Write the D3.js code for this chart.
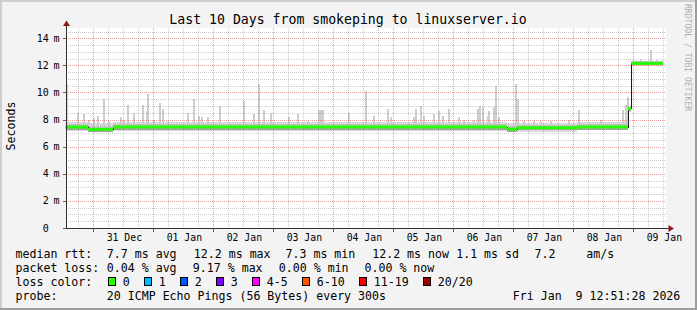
<!DOCTYPE html>
<html>
<head>
<meta charset="utf-8">
<script src="https://cdn.jsdelivr.net/npm/d3@7"></script>
<style>
  html, body { margin: 0; padding: 0; background: #f3f3f3; }
  svg { display: block; }
  text { font-family: "DejaVu Sans Mono", monospace; fill: #000; white-space: pre; }
</style>
</head>
<body>
<svg id="chart" width="697" height="310"></svg>
<script>
// Time window of the graph (10 days ending at the timestamp)
const startTime = new Date(2025, 11, 30, 12, 51, 28);
const endTime = new Date(2026, 0, 9, 12, 51, 28);
const dataEnd = 239; // hours after startTime where the data stops

// Median rtt in ms, as steps: [hours after start, value]
const medianSteps = [
  [0, 7.45], [9.0, 7.28], [19.0, 7.45], [176.6, 7.3], [180.6, 7.4],
  [204.6, 7.45], [225.0, 8.8], [226.3, 12.15]
];

// Packet loss (pings lost out of 20), as steps
const lossSteps = [[0, 1], [0.8, 0]];

// Smoke: outer band [hours, low, high] and inner core [hours, low, high]
const smokeBand = [
  [0, 7.15, 7.8], [9.0, 7.05, 7.75], [19.0, 7.15, 7.8], [176.6, 7.05, 7.75],
  [180.6, 7.12, 7.78], [204.6, 7.2, 7.82], [225.0, 8.55, 9.0], [226.3, 11.95, 12.35]
];
const smokeCore = [
  [0, 7.26, 7.64], [9.0, 7.08, 7.48], [19.0, 7.26, 7.64], [176.6, 7.1, 7.48],
  [180.6, 7.2, 7.58], [204.6, 7.26, 7.64], [225.0, 8.65, 8.95], [226.3, 12.02, 12.3]
];

// Smoke spikes: [hours after start, top of the spike in ms]
const spikes = [
  [0.2, 10.6], [4.7, 8.5], [6.9, 8.4], [9.1, 8.0], [10.9, 8.1], [12.7, 8.3], [14.9, 9.5],
  [17.1, 7.9], [21.8, 8.2], [23.1, 8.0], [24.5, 9.05], [26.9, 8.5], [30.5, 9.1], [32.2, 8.6],
  [32.7, 9.9], [35.1, 8.0], [37.5, 9.25], [38.5, 8.8], [40.5, 7.9], [48.7, 8.5], [50.9, 9.5],
  [53.1, 8.3], [54.1, 8.2], [56.7, 8.2], [61.5, 9.0], [70.9, 9.4], [74.9, 8.4], [77.1, 10.6],
  [78.9, 8.7], [81.8, 8.5], [89.1, 8.2], [92.7, 8.4], [96.5, 7.9], [101.1, 8.7], [101.9, 8.7],
  [102.7, 8.7], [113.1, 8.5], [119.8, 10.1], [122.9, 8.3], [128.7, 8.8], [129.8, 8.2],
  [139.1, 8.2], [139.8, 8.75], [141.8, 9.0], [142.9, 8.3], [146.9, 8.4], [149.1, 8.6],
  [150.7, 8.3], [152.9, 8.75], [156.9, 8.2], [159.1, 8.0], [163.1, 8.0], [164.5, 8.8],
  [165.5, 9.0], [166.5, 8.9], [168.5, 8.3], [169.1, 8.65], [170.9, 8.9], [171.8, 10.5],
  [173.1, 8.2], [179.8, 10.65], [180.7, 9.5], [183.1, 7.9], [187.1, 7.9], [189.8, 7.9],
  [193.8, 7.9], [201.1, 7.95], [204.9, 8.7], [213.8, 7.95], [222.5, 8.7], [223.8, 9.05],
  [224.7, 9.7], [229.8, 12.4], [233.8, 13.1], [236.2, 12.4]
];

// Axis labels
const yTickValues = [0, 2, 4, 6, 8, 10, 12, 14];
const yTickLabels = ["0", "2 m", "4 m", "6 m", "8 m", "10 m", "12 m", "14 m"];
const xTickLabels = ["31 Dec", "01 Jan", "02 Jan", "03 Jan", "04 Jan", "05 Jan",
                     "06 Jan", "07 Jan", "08 Jan", "09 Jan"];

// Legend
const lossLabels = ["0", "1", "2", "3", "4-5", "6-10", "11-19", "20/20"];
const lossUpper = [0, 1, 2, 3, 5, 10, 19, 20];
const lossColors = ["#26ff00", "#00b8ff", "#0059ff", "#7e00ff", "#ff00ff", "#ff5500", "#ff0000", "#a10000"];
const rttStats = ["7.7 ms avg", "12.2 ms max", "7.3 ms min", "12.2 ms now", "1.1 ms sd", "7.2", "am/s"];
const lossStats = ["0.04 % avg", "9.17 % max", "0.00 % min", "0.00 % now"];
const probeText = "20 ICMP Echo Pings (56 Bytes) every 300s";
const stampText = "Fri Jan  9 12:51:28 2026";
const title = "Last 10 Days from smokeping to linuxserver.io";

const svg = d3.select("#chart");
const plot = {left: 66, right: 666, top: 28, bottom: 228};
const at = h => new Date(startTime.getTime() + h * 3600e3);

const x = d3.scaleTime().domain([startTime, endTime]).range([65.5, 665.5]);
const y = d3.scaleLinear().domain([0, 14.76]).range([plot.bottom, plot.top]);

/*
 * Finds the step value active at hour h
 */
function stepAt(steps, h) {
  let cur = steps[0];
  for (const s of steps) { if (s[0] <= h) cur = s; }
  return cur;
}

function lossColor(loss) {
  return lossColors[lossUpper.findIndex(u => loss <= u)];
}

// Background + 3D frame
svg.append("rect").attr("width", 697).attr("height", 310).attr("fill", "#f3f3f3");
svg.append("rect").attr("x", 0).attr("y", 0).attr("width", 697).attr("height", 2).attr("fill", "#cfcfcf");
svg.append("rect").attr("x", 0).attr("y", 0).attr("width", 2).attr("height", 310).attr("fill", "#cfcfcf");
svg.append("rect").attr("x", 0).attr("y", 308).attr("width", 697).attr("height", 2).attr("fill", "#9e9e9e");
svg.append("rect").attr("x", 695).attr("y", 0).attr("width", 2).attr("height", 310).attr("fill", "#9e9e9e");

// Canvas
svg.append("rect")
  .attr("x", plot.left).attr("y", plot.top)
  .attr("width", plot.right - plot.left).attr("height", plot.bottom - plot.top)
  .attr("fill", "#ffffff");

const data = svg.append("g").attr("shape-rendering", "crispEdges");

// Smoke outer band
const bandEnd = (arr, i) => i + 1 < arr.length ? arr[i + 1][0] : dataEnd;
data.selectAll(".band").data(smokeBand).join("rect")
  .attr("x", d => x(at(d[0])))
  .attr("width", (d, i) => x(at(bandEnd(smokeBand, i))) - x(at(d[0])))
  .attr("y", d => y(d[2]))
  .attr("height", d => y(d[1]) - y(d[2]))
  .attr("fill", "#dadada");

// Spikes
data.selectAll(".spike").data(spikes).join("rect")
  .attr("x", d => x(at(d[0])))
  .attr("width", d => x(at(d[0] + 0.8)) - x(at(d[0])))
  .attr("y", d => y(d[1]))
  .attr("height", d => y(stepAt(medianSteps, d[0])[1]) - y(d[1]))
  .attr("fill", "#cecece");

// Smoke core (upper lighter, lower darker)
smokeCore.forEach((d, i) => {
  const x0 = x(at(d[0])), x1 = x(at(bandEnd(smokeCore, i)));
  const med = stepAt(medianSteps, d[0])[1];
  data.append("rect").attr("x", x0).attr("width", x1 - x0)
    .attr("y", y(d[2])).attr("height", y(med) - y(d[2])).attr("fill", "#c2c2c2");
  data.append("rect").attr("x", x0).attr("width", x1 - x0)
    .attr("y", y(med)).attr("height", y(d[1]) - y(med)).attr("fill", "#a2a2a2");
});

// Grid (drawn over the data, as rrdtool does)
const grid = svg.append("g").attr("shape-rendering", "crispEdges");
const majorDays = d3.timeDay.range(d3.timeDay.ceil(startTime), endTime);
const minorHours = d3.timeHour.every(6).range(startTime, endTime)
  .filter(d => d.getHours() !== 0);
const vx = d => Math.floor(x(d)) + 0.5;
const hy = v => Math.round(y(v)) + 0.5;

grid.selectAll(".vmin").data(minorHours).join("line")
  .attr("x1", vx).attr("x2", vx).attr("y1", plot.top).attr("y2", plot.bottom)
  .attr("stroke", "#8f8f8f").attr("stroke-opacity", 0.45).attr("stroke-dasharray", "1,1");
const minorY = d3.range(0.5, 14.76, 0.5).filter(v => v % 2 !== 0);
grid.selectAll(".hmin").data(minorY).join("line")
  .attr("x1", plot.left).attr("x2", plot.right).attr("y1", hy).attr("y2", hy)
  .attr("stroke", "#8f8f8f").attr("stroke-opacity", 0.45).attr("stroke-dasharray", "1,1");
grid.selectAll(".vmaj").data(majorDays).join("line")
  .attr("x1", vx).attr("x2", vx).attr("y1", plot.top).attr("y2", plot.bottom)
  .attr("stroke", "#de5050").attr("stroke-opacity", 0.55).attr("stroke-dasharray", "1,1");
grid.selectAll(".hmaj").data(yTickValues.slice(1)).join("line")
  .attr("x1", plot.left).attr("x2", plot.right).attr("y1", hy).attr("y2", hy)
  .attr("stroke", "#de5050").attr("stroke-opacity", 0.55).attr("stroke-dasharray", "1,1");

// Median line: thin dark step line, then loss-coloured segments
const medPts = medianSteps.concat([[dataEnd, medianSteps[medianSteps.length - 1][1]]]);
svg.append("path")
  .attr("d", d3.line().curve(d3.curveStepAfter).x(d => x(at(d[0]))).y(d => y(d[1]))(medPts))
  .attr("fill", "none").attr("stroke", "#1a1a1a").attr("stroke-width", 1)
  .attr("shape-rendering", "crispEdges");

const breaks = Array.from(new Set(medianSteps.map(d => d[0]).concat(lossSteps.map(d => d[0]))))
  .sort((a, b) => a - b);
breaks.forEach((h, i) => {
  const h1 = i + 1 < breaks.length ? breaks[i + 1] : dataEnd;
  const med = stepAt(medianSteps, h)[1];
  svg.append("line")
    .attr("x1", x(at(h))).attr("x2", x(at(h1)))
    .attr("y1", y(med)).attr("y2", y(med))
    .attr("stroke", lossColor(stepAt(lossSteps, h)[1])).attr("stroke-width", 3);
});

// Axes
const axisColor = "#333333";
svg.append("line").attr("x1", 66.5).attr("x2", 66.5).attr("y1", 228.5).attr("y2", 24)
  .attr("stroke", axisColor);
svg.append("line").attr("x1", 63).attr("x2", 669).attr("y1", 228.5).attr("y2", 228.5)
  .attr("stroke", axisColor);
svg.append("path").attr("d", "M66.5,20.5 L63,26 L70,26 Z").attr("fill", "#8b1a1a");
svg.append("path").attr("d", "M674,228.5 L668.5,225 L668.5,232 Z").attr("fill", "#8b1a1a");

// Y ticks + labels
yTickValues.forEach((v, i) => {
  const yy = hy(v);
  svg.append("line").attr("x1", 63).attr("x2", 66).attr("y1", yy).attr("y2", yy)
    .attr("stroke", "#606060");
  const [num, unit] = yTickLabels[i].split(" ");
  svg.append("text").attr("x", 48.8).attr("y", y(v) + 3.6)
    .attr("text-anchor", "end").attr("font-size", "10px").text(num);
  if (unit) {
    svg.append("text").attr("x", 53.6).attr("y", y(v) + 3.6)
      .attr("font-size", "10px").text(unit);
  }
});

// X ticks + labels (labels centered on noon of each day)
majorDays.forEach(d => {
  svg.append("line").attr("x1", vx(d)).attr("x2", vx(d)).attr("y1", 229).attr("y2", 232)
    .attr("stroke", "#606060");
});
xTickLabels.forEach((lbl, i) => {
  const noon = d3.timeHour.offset(majorDays[i], 12);
  svg.append("text").attr("x", x(noon) + 1).attr("y", 240.6)
    .attr("text-anchor", "middle").attr("font-size", "9.8px").text(lbl);
});

// Title, y label, watermark
svg.append("text").attr("x", 348).attr("y", 24).attr("text-anchor", "middle")
  .attr("font-size", "13.2px").text(title);
svg.append("text").attr("transform", "translate(14.8,126) rotate(-90)")
  .attr("text-anchor", "middle").attr("font-size", "11.6px").text("Seconds");
svg.append("text").attr("transform", "translate(684.5,4) rotate(90)")
  .attr("font-size", "8.1px").style("fill", "#b0b0b0").text("RRDTOOL / TOBI OETIKER");

// Legend
const rowY = i => 258.4 + i * 13.75;
const legendText = (tx, row, s) =>
  svg.append("text").attr("x", tx).attr("y", rowY(row)).attr("font-size", "11.6px").text(s);

legendText(15.5, 0, "median rtt:");
legendText(15.5, 1, "packet loss:");
legendText(15.5, 2, "loss color:");
legendText(15.5, 3, "probe:");

const rttX = [106.8, 193.8, 285.5, 372.2, 456.2, 534.5, 586.2];
rttStats.forEach((s, i) => legendText(rttX[i], 0, s));
const lossX = [106.8, 192.8, 278.8, 364.5];
lossStats.forEach((s, i) => legendText(lossX[i], 1, s));
legendText(106.8, 3, probeText);
legendText(512.8, 3, stampText);

// Loss colour boxes, laid out left to right
let bx = 108.5;
lossLabels.forEach((lbl, i) => {
  svg.append("rect").attr("x", bx).attr("y", 277.5).attr("width", 7).attr("height", 8)
    .attr("fill", lossColors[i]).attr("stroke", "#000").attr("shape-rendering", "crispEdges");
  const t = legendText(bx + 14.3, 2, lbl);
  bx = bx + 14.3 + t.node().getComputedTextLength() + 15;
  bx = Math.round(bx - 0.5) + 0.5;
});
</script>
</body>
</html>
